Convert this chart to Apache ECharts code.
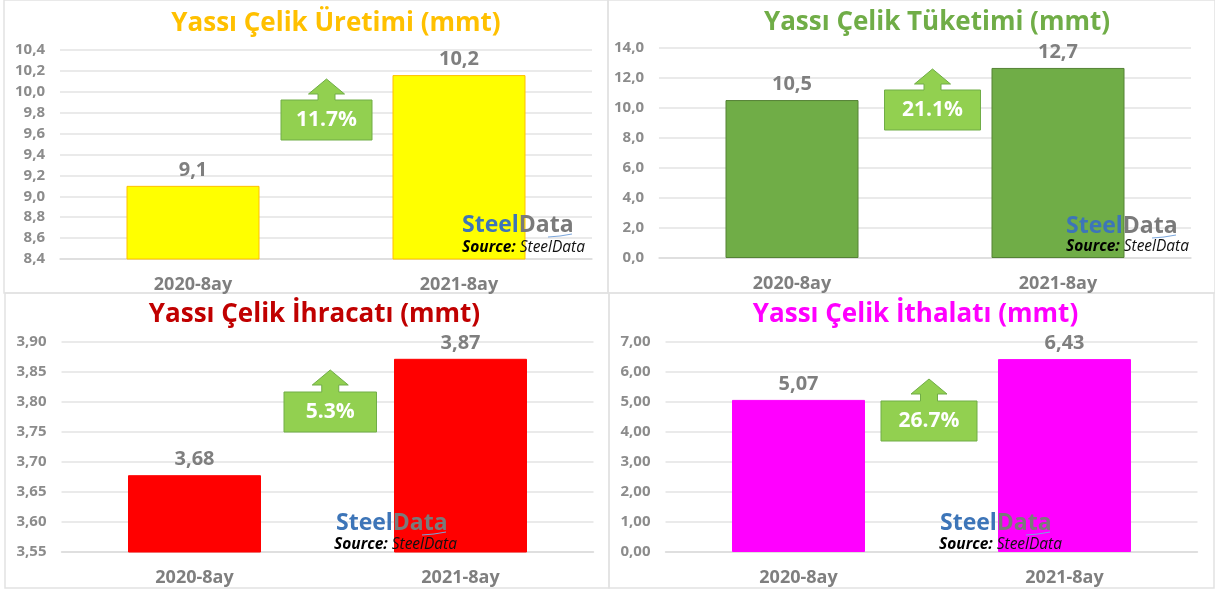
<!DOCTYPE html>
<html>
<head>
<meta charset="utf-8">
<title>Yassı Çelik</title>
<style>
  html, body { margin: 0; padding: 0; background: #fff; }
  #chart { width: 1215px; height: 592px; }
</style>
<script src="https://cdn.jsdelivr.net/npm/echarts@6/dist/echarts.min.js"></script>
</head>
<body>
<div id="chart"></div>
<script>
// veriler
var categories = ['2020-8ay', '2021-8ay'];
var uretim = [9.10, 10.16];
var tuketim = [10.53, 12.67];
var ihracat = [3.678, 3.872];
var ithalat = [5.07, 6.43];
var changes = ['11.7%', '21.1%', '5.3%', '26.7%'];
var titles = [
  'Yassı Çelik Üretimi (mmt)',
  'Yassı Çelik Tüketimi (mmt)',
  'Yassı Çelik İhracatı (mmt)',
  'Yassı Çelik İthalatı (mmt)'
];

var FONT = 'Open Sans';
var GRAY = '#7f7f7f';

// panel yerlesimi
var panels = [
  { values: uretim, min: 8.4, max: 10.4, step: 0.2, axisDec: 1, labelDec: 1,
    color: '#ffff00', border: '#ffc000', titleColor: '#ffc000', titleX: 331, titleY: 19,
    frame: [4, 0, 604, 293], grid: [60, 50, 532, 209],
    box: [281, 100, 91, 40], tip: 79, logo: [462, 225], src: [462, 248] },
  { values: tuketim, min: 0, max: 14, step: 2, axisDec: 1, labelDec: 1,
    color: '#70ad47', border: '#548235', titleColor: '#70ad47', titleX: 932, titleY: 18,
    frame: [608, 0, 607, 293], grid: [659, 48, 532, 210],
    box: [884.5, 90, 96, 40], tip: 69, logo: [1066, 226], src: [1066, 247] },
  { values: ihracat, min: 3.55, max: 3.9, step: 0.05, axisDec: 2, labelDec: 2,
    color: '#ff0000', border: '#ff0000', titleColor: '#c00000', titleX: 309.5, titleY: 310,
    frame: [5, 293, 604, 295], grid: [61.5, 342, 532, 210],
    box: [284, 392, 92.5, 40], tip: 370, logo: [336, 523], src: [334, 545] },
  { values: ithalat, min: 0, max: 7, step: 1, axisDec: 2, labelDec: 2,
    color: '#ff00ff', border: '#ff00ff', titleColor: '#ff00ff', titleX: 910.5, titleY: 310,
    frame: [609, 293, 605, 295], grid: [665.5, 342, 532, 210],
    box: [881, 401, 96, 40], tip: 379, logo: [940, 523], src: [939, 545] }
];

function fmt(v, dec) {
  return Number(v).toFixed(dec).replace('.', ',');
}

var titleList = [], grids = [], xAxes = [], yAxes = [], seriesList = [], graphics = [];

panels.forEach(function (p, i) {
  titleList.push({
    text: titles[i],
    left: p.titleX,
    top: p.titleY,
    textAlign: 'center',
    textVerticalAlign: 'middle',
    textStyle: { fontFamily: FONT, fontWeight: 'bold', fontSize: 26, color: p.titleColor }
  });
  grids.push({ left: p.grid[0], top: p.grid[1], width: p.grid[2], height: p.grid[3] });
  xAxes.push({
    type: 'category',
    gridIndex: i,
    data: categories,
    axisTick: { show: false },
    axisLine: { lineStyle: { color: '#dcdcdc', width: 1.5 } },
    axisLabel: { margin: 17, fontFamily: FONT, fontWeight: 'bold', fontSize: 18, color: GRAY }
  });
  yAxes.push({
    type: 'value',
    gridIndex: i,
    min: p.min,
    max: p.max,
    interval: p.step,
    axisLine: { show: false },
    axisTick: { show: false },
    splitLine: { lineStyle: { color: '#e3e3e3', width: 1.5 } },
    axisLabel: {
      margin: 15,
      padding: [2, 0, 0, 0],
      fontFamily: FONT,
      fontWeight: 'bold',
      fontSize: 15,
      color: '#8c8c8c',
      formatter: function (v) { return fmt(v, p.axisDec); }
    }
  });
  seriesList.push({
    type: 'bar',
    xAxisIndex: i,
    yAxisIndex: i,
    data: p.values,
    barWidth: '50%',
    itemStyle: { color: p.color, borderColor: p.border, borderWidth: 1 },
    label: {
      show: true,
      position: 'top',
      distance: 6,
      fontFamily: FONT,
      fontWeight: 'bold',
      fontSize: 20,
      color: GRAY,
      formatter: function (o) { return fmt(o.value, p.labelDec); }
    }
  });

  // cerceve
  graphics.push({
    type: 'rect', z: 0, silent: true,
    shape: { x: p.frame[0], y: p.frame[1], width: p.frame[2], height: p.frame[3] },
    style: { fill: 'none', stroke: '#e2e2e2', lineWidth: 1.5 }
  });

  // yukari ok + kutu
  var bx = p.box[0], by = p.box[1], bw = p.box[2], bh = p.box[3];
  var cx = bx + bw / 2;
  var headY = p.tip + 15;
  graphics.push({
    type: 'polygon', z: 50, silent: true,
    shape: { points: [
      [cx, p.tip], [cx + 18, headY], [cx + 8.5, headY], [cx + 8.5, by],
      [bx + bw, by], [bx + bw, by + bh], [bx, by + bh], [bx, by],
      [cx - 8.5, by], [cx - 8.5, headY], [cx - 18, headY]
    ] },
    style: { fill: '#92d050', stroke: '#70ad47', lineWidth: 1 }
  });
  graphics.push({
    type: 'text', z: 51, silent: true,
    x: cx, y: by + bh / 2,
    style: {
      text: changes[i], fill: '#fff', align: 'center', verticalAlign: 'middle',
      fontFamily: FONT, fontWeight: 'bold', fontSize: 21
    }
  });

  // logo + kaynak
  graphics.push({
    type: 'text', z: 60, silent: true,
    x: p.logo[0], y: p.logo[1],
    style: {
      text: '{a|Steel}{b|Data}',
      verticalAlign: 'middle',
      rich: {
        a: { fill: '#3d75b8', fontFamily: FONT, fontWeight: 'bold', fontSize: 23 },
        b: { fill: '#7a7a7a', fontFamily: FONT, fontWeight: 'bold', fontSize: 23 }
      }
    }
  });
  graphics.push({
    type: 'text', z: 60, silent: true,
    x: p.src[0], y: p.src[1],
    style: {
      text: '{a|Source: }{b|SteelData}',
      verticalAlign: 'middle',
      rich: {
        a: { fill: '#000', fontFamily: FONT, fontStyle: 'italic', fontWeight: 'bold', fontSize: 15.5 },
        b: { fill: '#111', fontFamily: FONT, fontStyle: 'italic', fontSize: 15.5 }
      }
    }
  });
  graphics.push({
    type: 'polyline', z: 60, silent: true,
    shape: { points: [[p.logo[0] + 86, p.logo[1] + 12], [p.logo[0] + 98, p.logo[1] + 11], [p.logo[0] + 110, p.logo[1] + 9]] },
    style: { stroke: '#7aa6dc', lineWidth: 1, fill: 'none' }
  });
});

var myChart = echarts.init(document.getElementById('chart'), null, { renderer: 'canvas' });
myChart.setOption({
  animation: false,
  backgroundColor: '#fff',
  title: titleList,
  grid: grids,
  xAxis: xAxes,
  yAxis: yAxes,
  series: seriesList,
  graphic: graphics
});
</script>
</body>
</html>
